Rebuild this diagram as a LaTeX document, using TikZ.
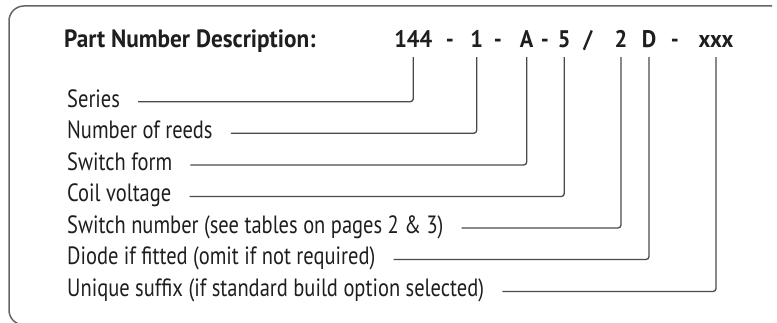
\documentclass[tikz,border=0pt]{standalone}
\usepackage{fontspec}
\setmainfont[FakeStretch=0.82,BoldFeatures={FakeStretch=0.93}]{PT Sans}
\definecolor{ink}{HTML}{1E1E1E}
\definecolor{rule}{HTML}{4A4A4A}
\begin{document}
\begin{tikzpicture}[x=1pt,y=-1pt,
		every node/.style={text=ink,font=\fontsize{25}{29}\selectfont},
		title/.style={anchor=base west,inner sep=0pt,font=\fontsize{25}{29}\selectfont\bfseries},
		pn/.style={anchor=base,inner sep=0pt,inner ysep=9pt,text depth=0pt,font=\fontsize{24}{28}\selectfont\bfseries},
		lbl/.style={anchor=west,inner xsep=18pt,inner ysep=0pt,text height=11pt,text depth=0pt},
		lead/.style={draw=rule,line width=1.3pt,rounded corners=3pt}]
	\useasboundingbox (0,0) rectangle (777,323);
	\clip (0,0) rectangle (777,323);
	% frame, open on the right
	\draw [rule!85,line width=1.5pt,rounded corners=15pt] (772,6) -- (9,6) -- (9,325) -- (60,325);
	% heading
	\node [title] (ttl) at(64,48) {Part Number Description:};
	\node [pn] (s144) at(413.3,48) {144};
	\node [pn] (d1) at(450,48) {-};
	\node [pn] (s1) at(476.7,48) {1};
	\node [pn] (d2) at(498,48) {-};
	\node [pn] (sA) at(526.7,48) {A};
	\node [pn] (d3) at(545,48) {-};
	\node [pn] (s5) at(564.3,48) {5};
	\node [pn] (sl) at(588,48) {/};
	\node [pn] (s2) at(621,48) {2};
	\node [pn] (sD) at(649,48) {D};
	\node [pn] (d4) at(675,48) {-};
	\node [pn] (sx) at(716,48) {xxx};
	% labels
	\node [lbl] (lser) at(49,101.7) {Series};
	\node [lbl] (lree) at(49,133.3) {Number of reeds};
	\node [lbl] (lfrm) at(49,165) {Switch form};
	\node [lbl] (lcoi) at(49,196.5) {Coil voltage};
	\node [lbl] (lsw) at(49,228) {Switch number (see tables on pages 2 \& 3)};
	\node [lbl] (ldio) at(49,259.5) {Diode if fitted (omit if not required)};
	\node [lbl] (lsuf) at(49,291.5) {Unique suffix (if standard build option selected)};
	% leaders
	\draw [lead] (s144.south) |- (lser);
	\draw [lead] (s1.south) |- (lree);
	\draw [lead] (sA.south) |- (lfrm);
	\draw [lead] (s5.south) |- (lcoi);
	\draw [lead] (s2.south) |- (lsw);
	\draw [lead] (sD.south) |- (ldio);
	\draw [lead] (sx.south) |- (lsuf);
\end{tikzpicture}
\end{document}
